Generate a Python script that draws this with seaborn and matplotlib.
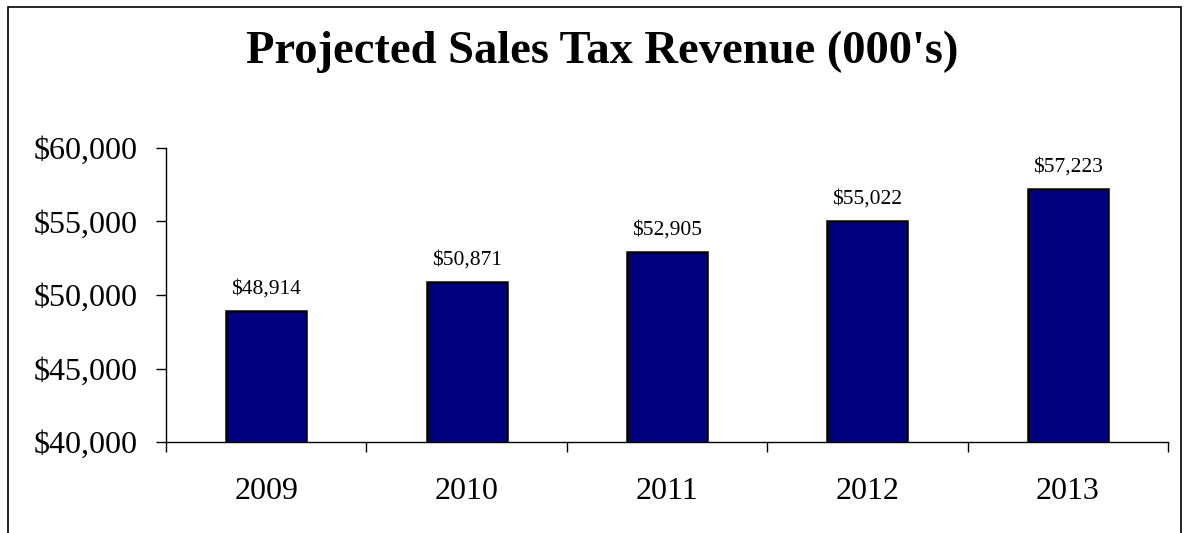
import matplotlib
matplotlib.use("Agg")
import matplotlib.pyplot as plt
import seaborn as sns
import pandas as pd
from matplotlib.patches import Rectangle
from matplotlib.ticker import FixedLocator, FuncFormatter

years = ["2009", "2010", "2011", "2012", "2013"]
revenue = [48914, 50871, 52905, 55022, 57223]
title = "Projected Sales Tax Revenue (000's)"

sns.set_style("white")
plt.rcParams['font.family'] = ['Liberation Serif', 'DejaVu Serif']
plt.rcParams['text.color'] = 'black'
plt.rcParams['xtick.color'] = 'black'
plt.rcParams['ytick.color'] = 'black'
plt.rcParams['axes.labelcolor'] = 'black'

df = pd.DataFrame({"year": years, "revenue": revenue})

fig = plt.figure(figsize=(11.87, 5.33), dpi=100)
ax = fig.add_axes([166/1187, 1-442/533, (1168-166)/1187, (442-148)/533])

sns.barplot(data=df, x="year", y="revenue", color="#000080", saturation=1,
            width=0.4, edgecolor="black", linewidth=1.8, ax=ax)

ax.set_ylim(40000, 60000)
ax.set_xlim(-0.5, len(years) - 0.5)
ax.set_yticks([40000, 45000, 50000, 55000, 60000])
ax.yaxis.set_major_formatter(FuncFormatter(lambda v, p: f"${v:,.0f}"))
ax.tick_params(axis="y", direction="out", length=7.5, width=1, color="black",
               labelsize=23, pad=13, left=True, labelcolor="black")
ax.tick_params(axis="x", which="major", length=0, labelsize=23, pad=25,
               labelcolor="black")
ax.xaxis.set_minor_locator(FixedLocator([i - 0.5 for i in range(len(years) + 1)]))
ax.tick_params(axis="x", which="minor", direction="out", length=7.5, width=1,
               color="black", bottom=True)
ax.set_xlabel("")
ax.set_ylabel("")
for s in ["top", "right"]:
    ax.spines[s].set_visible(False)
for s in ["left", "bottom"]:
    ax.spines[s].set_color("black")
    ax.spines[s].set_linewidth(1)

for c in ax.containers:
    ax.bar_label(c, labels=[f"${v:,.0f}" for v in revenue], padding=9,
                 fontsize=15.5, color="black")

fig.text(602/1187, 1-52/533, title, ha="center", va="center",
         fontsize=33.5, fontweight="bold", color="black")

fig.patches.append(Rectangle((8/1187, -0.05), (1181-8)/1187, 1.05 - 7/533,
                             transform=fig.transFigure, fill=False,
                             edgecolor="black", linewidth=1.2))

fig.savefig("out.png", dpi=100)
